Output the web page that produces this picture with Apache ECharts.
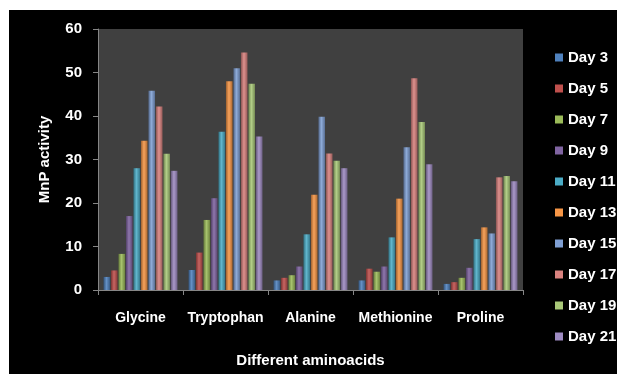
<!DOCTYPE html>
<html>
<head>
<meta charset="utf-8">
<script src="https://cdn.jsdelivr.net/npm/echarts@6/dist/echarts.min.js"></script>
<style>
  html, body { margin: 0; padding: 0; background: #ffffff; }
  #chart { position: absolute; left: 9px; top: 10px; width: 608px; height: 364px; }
</style>
</head>
<body>
<div id="chart"></div>
<script>
// Amino acid categories on the x axis
const aminoAcids = ['Glycine', 'Tryptophan', 'Alanine', 'Methionine', 'Proline'];

// MnP activity per sampling day (one value per amino acid)
const day3  = [3.0, 4.6, 2.2, 2.2, 1.4];
const day5  = [4.5, 8.6, 2.8, 4.9, 1.8];
const day7  = [8.3, 16.1, 3.4, 4.2, 2.8];
const day9  = [17.0, 21.1, 5.4, 5.4, 5.1];
const day11 = [28.0, 36.4, 12.8, 12.1, 11.7];
const day13 = [34.3, 48.0, 21.9, 21.0, 14.4];
const day15 = [45.8, 51.0, 39.8, 32.8, 13.0];
const day17 = [42.2, 54.6, 31.4, 48.7, 25.9];
const day19 = [31.3, 47.4, 29.7, 38.6, 26.2];
const day21 = [27.4, 35.3, 28.0, 28.9, 25.0];

const seriesNames = ['Day 3', 'Day 5', 'Day 7', 'Day 9', 'Day 11',
                     'Day 13', 'Day 15', 'Day 17', 'Day 19', 'Day 21'];
const seriesData = [day3, day5, day7, day9, day11, day13, day15, day17, day19, day21];

// Y axis ticks
const yTicks = [0, 10, 20, 30, 40, 50, 60];

const palette = ['#4f81bd', '#c0504d', '#9bbb59', '#8064a2', '#4bacc6',
                 '#f79646', '#7f9fd3', '#d9827f', '#a9c878', '#9e8bc2'];

function shade(hex, f) {
  const n = parseInt(hex.slice(1), 16);
  let r = (n >> 16) & 255, g = (n >> 8) & 255, b = n & 255;
  if (f < 0) { r = r * (1 + f); g = g * (1 + f); b = b * (1 + f); }
  else { r = r + (255 - r) * f; g = g + (255 - g) * f; b = b + (255 - b) * f; }
  return 'rgb(' + Math.round(r) + ',' + Math.round(g) + ',' + Math.round(b) + ')';
}

function barFill(c) {
  return new echarts.graphic.LinearGradient(0, 0, 1, 0, [
    { offset: 0, color: shade(c, -0.35) },
    { offset: 0.45, color: shade(c, 0.12) },
    { offset: 1, color: shade(c, -0.3) }
  ]);
}

const font = '"Liberation Sans", Arial, sans-serif';

const chart = echarts.init(document.getElementById('chart'));
chart.setOption({
  backgroundColor: '#000000',
  animation: false,
  grid: {
    left: 89, right: 94, top: 19, bottom: 84,
    show: true, backgroundColor: '#404040', borderWidth: 0
  },
  legend: {
    orient: 'vertical',
    left: 541, top: 35,
    itemWidth: 8, itemHeight: 8, itemGap: 16,
    icon: 'rect',
    textStyle: { color: '#ffffff', fontSize: 15, fontWeight: 'bold', fontFamily: font },
    data: seriesNames.map((n, i) => ({ name: n, itemStyle: { color: palette[i] } }))
  },
  xAxis: {
    type: 'category',
    data: aminoAcids,
    name: 'Different aminoacids',
    nameLocation: 'middle',
    nameGap: 63,
    nameTextStyle: { color: '#ffffff', fontSize: 15, fontWeight: 'bold', fontFamily: font },
    axisLine: { lineStyle: { color: '#868686', width: 1 } },
    axisTick: { show: true, length: 5, lineStyle: { color: '#868686' } },
    axisLabel: {
      color: '#ffffff', fontSize: 14, fontWeight: 'bold', fontFamily: font,
      margin: 21, interval: 0, hideOverlap: false
    },
    splitLine: { show: false }
  },
  yAxis: {
    type: 'value',
    min: yTicks[0], max: yTicks[yTicks.length - 1], interval: 10,
    name: 'MnP activity',
    nameLocation: 'middle',
    nameGap: 46,
    nameRotate: 90,
    nameTextStyle: { color: '#ffffff', fontSize: 15, fontWeight: 'bold', fontFamily: font },
    axisLine: { show: true, lineStyle: { color: '#868686', width: 1 } },
    axisTick: { show: true, length: 5, lineStyle: { color: '#868686' } },
    axisLabel: { color: '#ffffff', fontSize: 15, fontWeight: 'bold', fontFamily: font, margin: 16 },
    splitLine: { show: false }
  },
  series: seriesData.map((d, i) => ({
    name: seriesNames[i],
    type: 'bar',
    data: d,
    barCategoryGap: '13%',
    barGap: '14%',
    itemStyle: { color: barFill(palette[i]) }
  }))
});
</script>
</body>
</html>
